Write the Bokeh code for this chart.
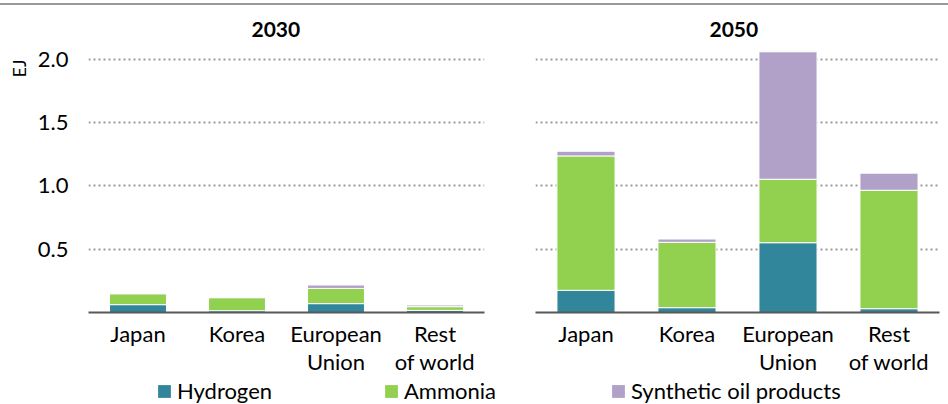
from bokeh.plotting import figure
from bokeh.layouts import column, row
from bokeh.models import (ColumnDataSource, Legend, LegendItem, Title, Div,
                          FactorRange, Range1d, FixedTicker, GlobalInlineStyleSheet,
                          CustomJSTickFormatter)
from bokeh.embed import file_html
from bokeh.resources import INLINE

regions = ["Japan", "Korea", "European\nUnion", "Rest\nof world"]
series = ["Hydrogen", "Ammonia", "Synthetic oil products"]
colors = ["#31869B", "#92D050", "#B1A0C7"]

hyd_2030 = [0.062, 0.014, 0.070, 0.017]
amm_2030 = [0.086, 0.103, 0.120, 0.029]
syn_2030 = [0.004, 0.003, 0.027, 0.013]

hyd_2050 = [0.175, 0.038, 0.551, 0.030]
amm_2050 = [1.061, 0.516, 0.501, 0.935]
syn_2050 = [0.037, 0.026, 1.006, 0.135]

y_ticks = [0.5, 1.0, 1.5, 2.0]
FONT = "Lato"
TXT = "#000000"
FS = "22px"


def make_panel(title, title_offset, hyd, amm, syn, show_y, frame_w, border_left, border_right):
    src = ColumnDataSource(dict(region=regions, Hydrogen=hyd, Ammonia=amm,
                                **{"Synthetic oil products": syn}))
    p = figure(x_range=FactorRange(*regions), y_range=Range1d(0, 2.1),
               frame_width=frame_w, frame_height=266,
               output_backend="svg", toolbar_location=None,
               min_border_left=border_left, min_border_right=border_right,
               min_border_top=40, min_border_bottom=64)
    t = Title(text=title, text_font=FONT, text_font_size="21px", text_font_style="bold",
              text_color=TXT, align="left", offset=title_offset, standoff=20)
    p.add_layout(t, "above")
    p.outline_line_color = None
    p.background_fill_color = None
    p.border_fill_color = None

    p.vbar_stack(series, x="region", width=0.575, source=src,
                 color=colors, line_color="white", line_width=1)

    p.xgrid.grid_line_color = None
    p.ygrid.ticker = FixedTicker(ticks=y_ticks)
    p.ygrid.grid_line_color = "#9a9a9a"
    p.ygrid.grid_line_dash = "2 3"
    p.ygrid.grid_line_width = 2

    p.xaxis.axis_line_color = "#595959"
    p.xaxis.axis_line_width = 2
    p.xaxis.major_tick_line_color = None
    p.xaxis.major_tick_out = 0
    p.xaxis.major_tick_in = 0
    p.xaxis.minor_tick_line_color = None
    p.xaxis.major_label_text_font = FONT
    p.xaxis.major_label_text_font_size = FS
    p.xaxis.major_label_text_color = TXT
    p.xaxis.major_label_text_line_height = 1.05
    p.xaxis.major_label_standoff = 7

    p.yaxis.ticker = FixedTicker(ticks=y_ticks)
    p.yaxis.axis_line_color = None
    p.yaxis.major_tick_line_color = None
    p.yaxis.major_tick_out = 0
    p.yaxis.major_tick_in = 0
    p.yaxis.minor_tick_line_color = None
    if show_y:
        p.yaxis.major_label_text_font = FONT
        p.yaxis.major_label_text_font_size = FS
        p.yaxis.major_label_text_color = TXT
        p.yaxis.major_label_standoff = 20
        p.yaxis.formatter = CustomJSTickFormatter(code="return tick.toFixed(1);")
        ej = Title(text="EJ", text_font=FONT, text_font_size="18px",
                   text_font_style="normal", text_color=TXT, align="right",
                   offset=13, standoff=9)
        p.add_layout(ej, "left")
    else:
        p.yaxis.visible = False
    return p


p1 = make_panel("2030", 163, hyd_2030, amm_2030, syn_2030, True, 396, 88, 26)
p2 = make_panel("2050", 174, hyd_2050, amm_2050, syn_2050, False, 404, 25, 9)

# thin rule across the top
top = Div(text="", width=948, height=2, margin=(3, 0, 1, 0),
          styles={"background-color": "#999999"})

# legend strip
pl = figure(width=948, height=28, output_backend="svg", toolbar_location=None,
            min_border=0, x_range=(0, 1), y_range=(0, 1))
pl.axis.visible = False
pl.grid.visible = False
pl.outline_line_color = None
pl.background_fill_color = None
pl.border_fill_color = None
# zero-height placeholder bars: they only supply the legend swatches
dummy = [pl.vbar(x=[0.5], top=[0], bottom=[0], width=0.01, fill_color=c, line_color=None)
         for c in colors]
leg = Legend(items=[LegendItem(label=s, renderers=[r]) for s, r in zip(series, dummy)],
             orientation="horizontal", location=(156, 1), glyph_width=16,
             glyph_height=16, label_standoff=5, label_width=206, spacing=0,
             padding=0, margin=0, border_line_color=None, background_fill_alpha=0,
             label_text_font=FONT, label_text_font_size=FS, label_text_color=TXT)
pl.add_layout(leg, "center")

layout = column(top, row(p1, p2), pl,
                stylesheets=[GlobalInlineStyleSheet(css="html, body { margin: 0 !important; padding: 0; }")])

open("out.html", "w").write(file_html(layout, INLINE))
